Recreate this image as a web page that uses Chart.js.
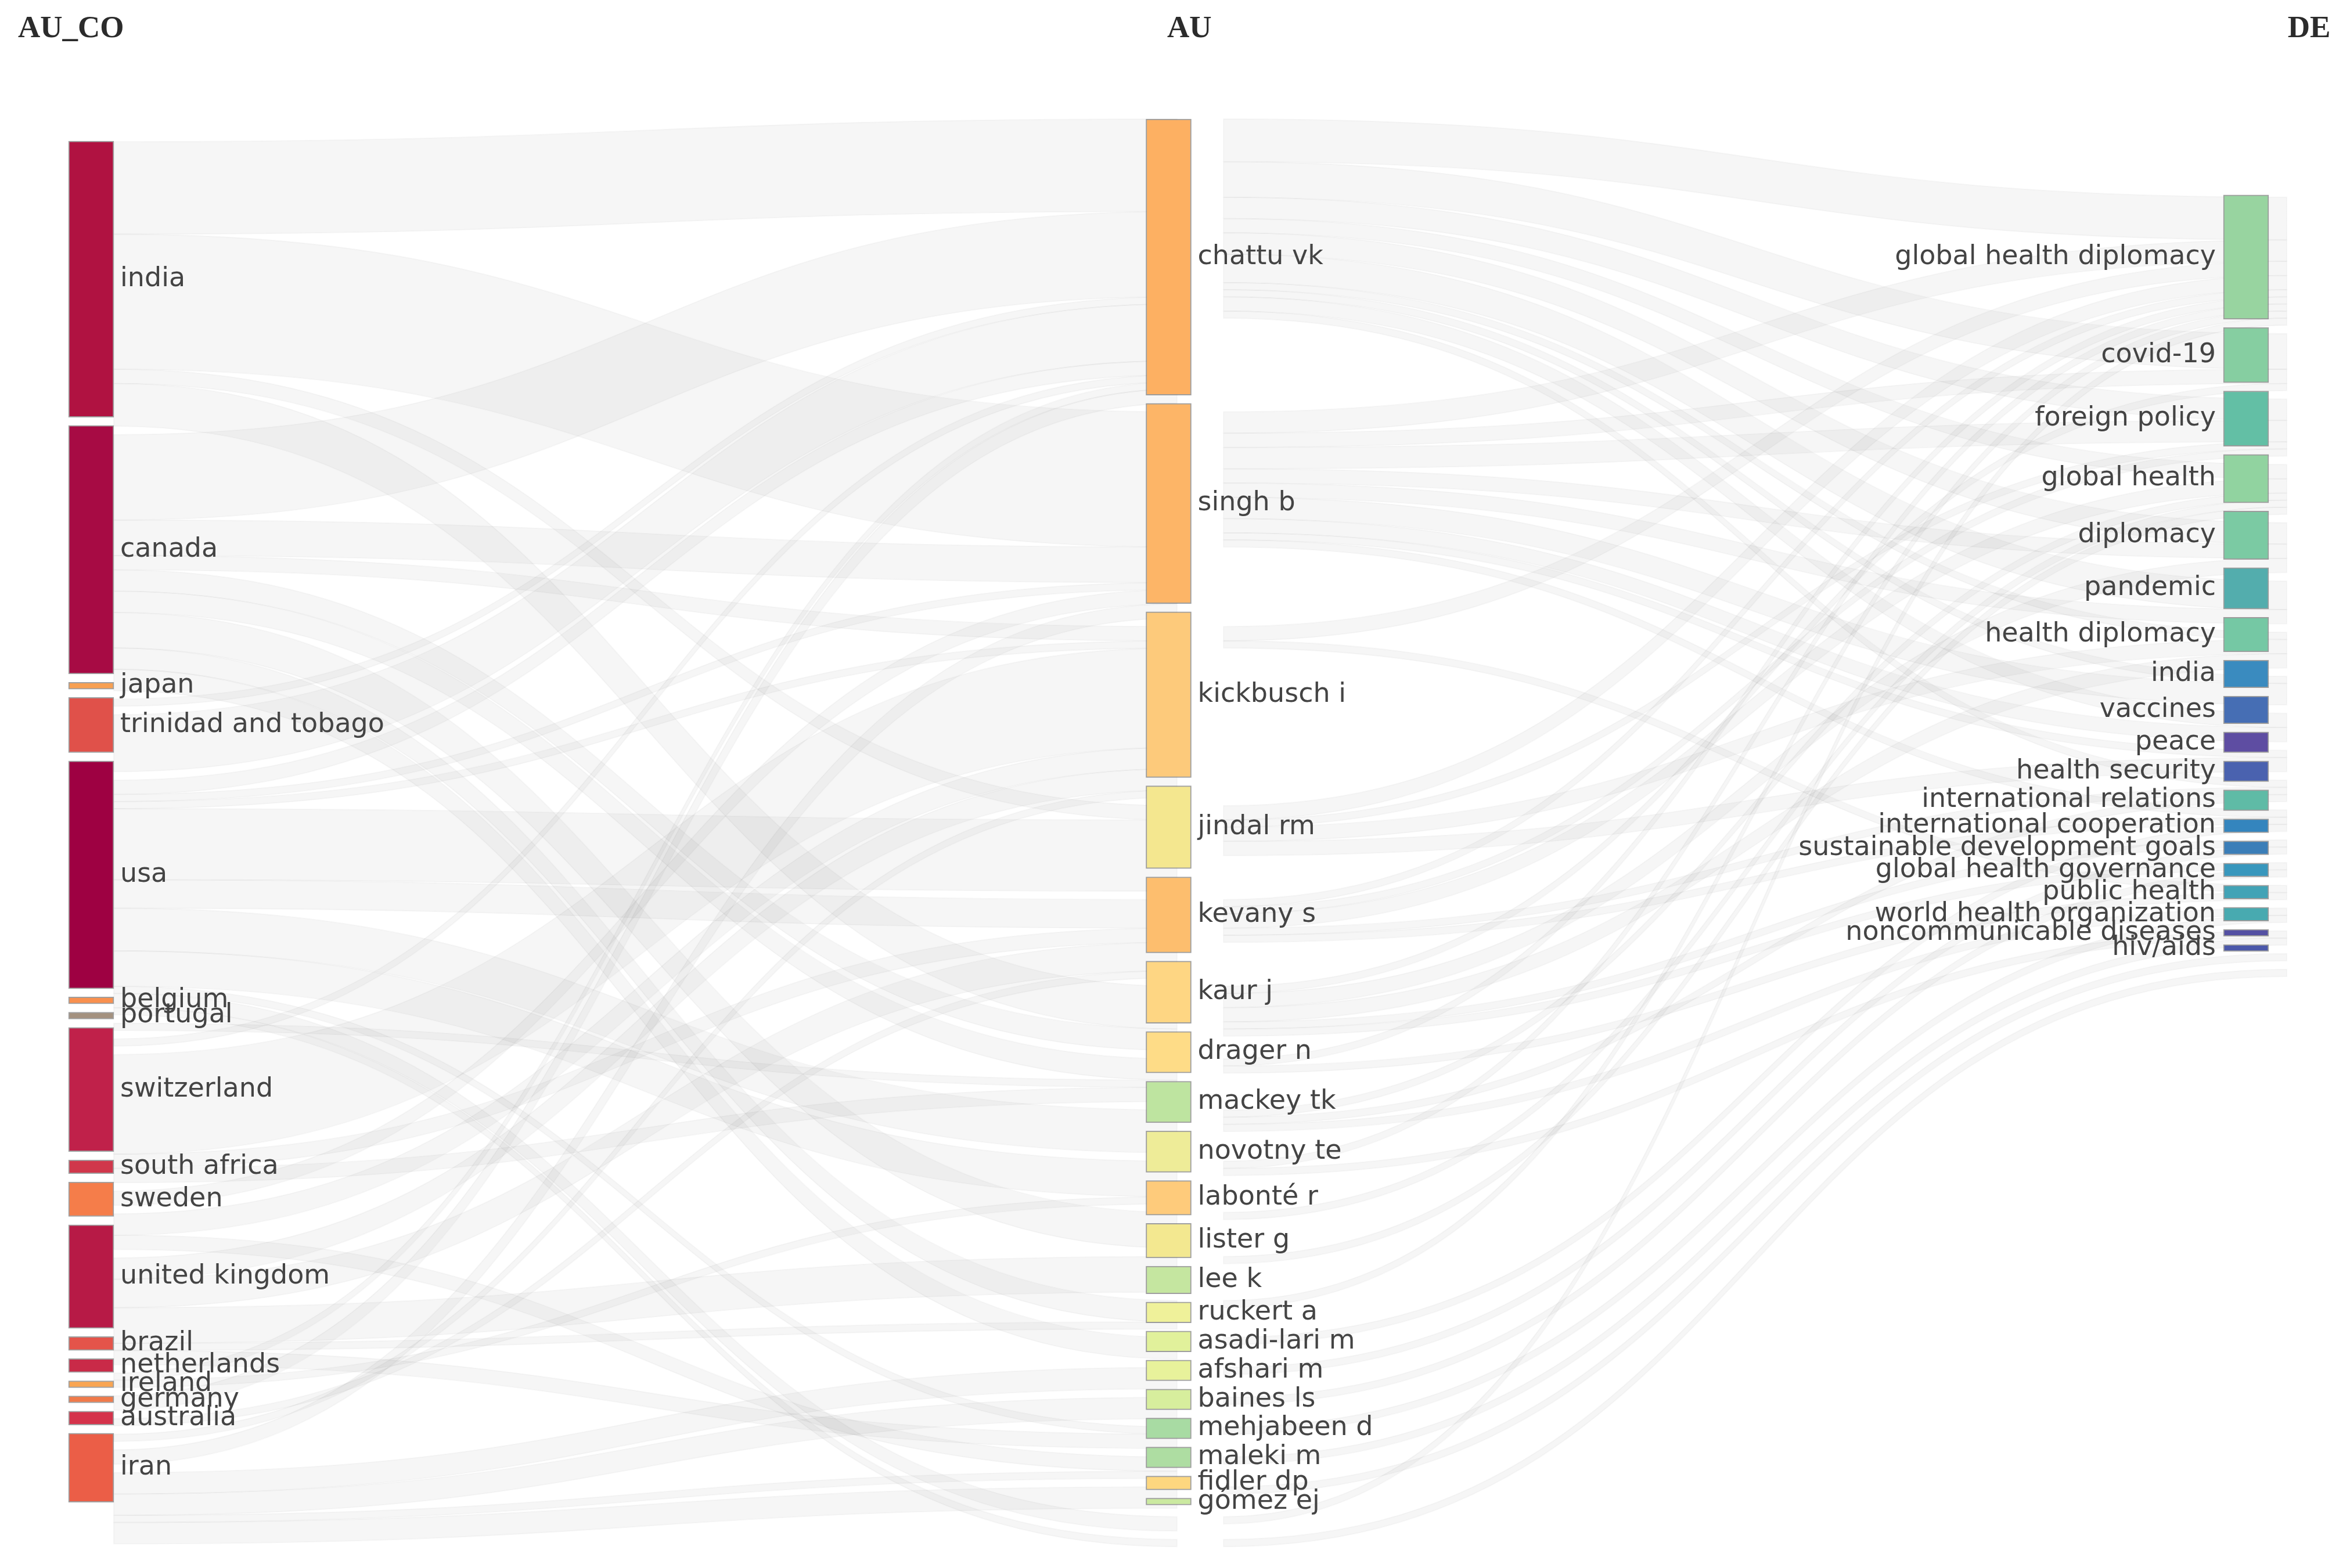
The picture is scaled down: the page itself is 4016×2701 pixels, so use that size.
<!DOCTYPE html>
<html>
<head>
<meta charset="utf-8">
<script src="https://cdn.jsdelivr.net/npm/chart.js@4.4.1/dist/chart.umd.min.js"></script>
<style>
  html, body { margin: 0; padding: 0; background: #fff; }
</style>
</head>
<body>
<canvas id="myChart" width="4016" height="2701"></canvas>
<script>
// three-field plot: countries -> authors -> keywords
const columns = ['AU_CO', 'AU', 'DE'];

const countries = ['india', 'canada', 'japan', 'trinidad and tobago', 'usa', 'belgium', 'portugal',
  'switzerland', 'south africa', 'sweden', 'united kingdom', 'brazil', 'netherlands', 'ireland',
  'germany', 'australia', 'iran'];
const countryColors = ['#b01241', '#a70b44', '#f8a052', '#e0514a', '#9e0142', '#f9904f', '#a4917f',
  '#c0214a', '#d0374b', '#f57d4a', '#b71a46', '#e4544a', '#c92a48', '#f9a552',
  '#f07a4a', '#d5334b', '#eb5e47'];

const authors = ['chattu vk', 'singh b', 'kickbusch i', 'jindal rm', 'kevany s', 'kaur j', 'drager n',
  'mackey tk', 'novotny te', 'labonté r', 'lister g', 'lee k', 'ruckert a', 'asadi-lari m',
  'afshari m', 'baines ls', 'mehjabeen d', 'maleki m', 'fidler dp', 'gómez ej'];
const authorColors = ['#fdb062', '#fdb567', '#fdca7b', '#f4e78f', '#fdbe6e', '#fed683', '#fedc87',
  '#bee4a0', '#eeec98', '#fecb7b', '#f3e890', '#c5e6a0', '#eff19a', '#e1f19b',
  '#e8f29b', '#d7ee9d', '#a8dba3', '#aedda2', '#fdd77f', '#cbe9a0'];

const keywords = ['global health diplomacy', 'covid-19', 'foreign policy', 'global health', 'diplomacy',
  'pandemic', 'health diplomacy', 'india', 'vaccines', 'peace', 'health security',
  'international relations', 'international cooperation', 'sustainable development goals',
  'global health governance', 'public health', 'world health organization',
  'noncommunicable diseases', 'hiv/aids'];
const keywordColors = ['#98d4a0', '#86cea1', '#63bfa5', '#91d3a0', '#7bcaa3', '#53adad', '#75c8a4',
  '#3a8bbf', '#466eb4', '#5e4da2', '#4a62af', '#5fbba6', '#3485be', '#3b7eb8',
  '#3897bd', '#42a3b6', '#48aab0', '#5450a3', '#4b58aa'];

// country -> author flows
const linksCoAu = [
  ['india', 'chattu vk', 13], ['canada', 'chattu vk', 12], ['trinidad and tobago', 'chattu vk', 8],
  ['usa', 'chattu vk', 2], ['japan', 'chattu vk', 1], ['brazil', 'chattu vk', 1],
  ['portugal', 'chattu vk', 1], ['netherlands', 'chattu vk', 2],
  ['india', 'singh b', 19], ['canada', 'singh b', 5], ['usa', 'singh b', 1],
  ['south africa', 'singh b', 2], ['australia', 'singh b', 2],
  ['switzerland', 'kickbusch i', 14], ['germany', 'kickbusch i', 1], ['united kingdom', 'kickbusch i', 3],
  ['usa', 'kickbusch i', 1], ['canada', 'kickbusch i', 2], ['sweden', 'kickbusch i', 3],
  ['usa', 'jindal rm', 10], ['india', 'jindal rm', 2],
  ['usa', 'kevany s', 4], ['ireland', 'kevany s', 1], ['united kingdom', 'kevany s', 4], ['switzerland', 'kevany s', 2],
  ['india', 'kaur j', 6], ['canada', 'kaur j', 3],
  ['canada', 'drager n', 3], ['switzerland', 'drager n', 2], ['belgium', 'drager n', 1],
  ['usa', 'mackey tk', 6],
  ['usa', 'novotny te', 5], ['brazil', 'novotny te', 1],
  ['canada', 'labonté r', 5],
  ['united kingdom', 'lister g', 5],
  ['canada', 'lee k', 3], ['united kingdom', 'lee k', 1],
  ['canada', 'ruckert a', 3],
  ['iran', 'asadi-lari m', 3],
  ['iran', 'afshari m', 3],
  ['united kingdom', 'baines ls', 2], ['usa', 'baines ls', 1],
  ['sweden', 'mehjabeen d', 2], ['iran', 'mehjabeen d', 1],
  ['iran', 'maleki m', 3],
  ['usa', 'fidler dp', 2],
  ['usa', 'gómez ej', 1]
];

// author -> keyword flows
const linksAuDe = [
  ['chattu vk', 'global health diplomacy', 6], ['chattu vk', 'covid-19', 5], ['chattu vk', 'foreign policy', 3],
  ['chattu vk', 'global health', 2], ['chattu vk', 'diplomacy', 3], ['chattu vk', 'pandemic', 4],
  ['chattu vk', 'health diplomacy', 1], ['chattu vk', 'india', 1], ['chattu vk', 'vaccines', 2],
  ['chattu vk', 'health security', 1],
  ['singh b', 'global health diplomacy', 3], ['singh b', 'covid-19', 2], ['singh b', 'foreign policy', 3],
  ['singh b', 'diplomacy', 2], ['singh b', 'pandemic', 2], ['singh b', 'india', 3],
  ['singh b', 'vaccines', 2], ['singh b', 'peace', 1], ['singh b', 'international relations', 1],
  ['kickbusch i', 'global health diplomacy', 2], ['kickbusch i', 'global health governance', 1],
  ['jindal rm', 'global health diplomacy', 2], ['jindal rm', 'foreign policy', 1],
  ['jindal rm', 'peace', 2], ['jindal rm', 'health diplomacy', 2],
  ['kevany s', 'global health diplomacy', 1], ['kevany s', 'foreign policy', 1], ['kevany s', 'global health', 2],
  ['kevany s', 'health security', 1], ['kevany s', 'international relations', 1],
  ['kaur j', 'covid-19', 1], ['kaur j', 'health diplomacy', 2], ['kaur j', 'diplomacy', 2],
  ['kaur j', 'international cooperation', 1], ['kaur j', 'sustainable development goals', 1],
  ['drager n', 'global health diplomacy', 1], ['drager n', 'global health governance', 1],
  ['mackey tk', 'global health', 1], ['mackey tk', 'health security', 1], ['mackey tk', 'public health', 1],
  ['novotny te', 'global health diplomacy', 1], ['novotny te', 'world health organization', 1],
  ['labonté r', 'global health', 1],
  ['lister g', 'global health', 1],
  ['lee k', 'global health diplomacy', 1],
  ['ruckert a', 'international relations', 1],
  ['asadi-lari m', 'international cooperation', 1],
  ['afshari m', 'sustainable development goals', 1],
  ['baines ls', 'public health', 1],
  ['mehjabeen d', 'world health organization', 1],
  ['maleki m', 'noncommunicable diseases', 1],
  ['fidler dp', 'global health diplomacy', 1],
  ['gómez ej', 'hiv/aids', 1]
];

// layout settings (flow units / pixels)
const BAR_W = 78;
const NODE_PAD = 1.2;
const COLUMN_TOP = [3.2, 0, 11];
const Y_MAX = 209;
const LINK_STRETCH = 1.03;
const TITLE_X = [0.0077, 0.5005, 0.981];

// build nodes from the lists
let nodes = [];
function addColumn(col, names, colors) {
  names.forEach((n, i) => nodes.push({ col: col, name: n, idx: i, color: colors[i], inV: 0, outV: 0 }));
}
addColumn(0, countries, countryColors);
addColumn(1, authors, authorColors);
addColumn(2, keywords, keywordColors);

function findNode(col, name) {
  return nodes.find(n => n.col == col && n.name == name);
}

let links = [];
linksCoAu.forEach(l => links.push({ s: findNode(0, l[0]), t: findNode(1, l[1]), v: l[2] }));
linksAuDe.forEach(l => links.push({ s: findNode(1, l[0]), t: findNode(2, l[1]), v: l[2] }));
links.forEach(l => { l.s.outV += l.v; l.t.inV += l.v; });

// stack nodes in each column
for (let col = 0; col < 3; col++) {
  let y = COLUMN_TOP[col];
  nodes.filter(n => n.col == col).forEach(n => {
    n.value = Math.max(n.inV, n.outV);
    n.y0 = y;
    n.y1 = y + n.value;
    y = n.y1 + NODE_PAD;
  });
}

// where each link sits inside its source / target node
nodes.forEach(n => {
  let o = n.y0;
  links.filter(l => l.s == n).sort((a, b) => a.t.idx - b.t.idx).forEach(l => { l.sy = o; o += l.v; });
  o = n.y0;
  links.filter(l => l.t == n).sort((a, b) => a.s.idx - b.s.idx).forEach(l => { l.ty = o; o += l.v; });
});

const datasets = nodes.map(n => {
  let d = [null, null, null];
  d[n.col] = [n.y0, n.y1];
  return {
    label: n.name,
    data: d,
    backgroundColor: n.color,
    borderColor: 'rgba(95,95,95,0.6)',
    borderWidth: 2,
    borderSkipped: false,
    barThickness: BAR_W,
    grouped: false,
    clip: false
  };
});

const linkPlugin = {
  id: 'links',
  beforeDatasetsDraw(chart) {
    const ctx = chart.ctx;
    const xs = chart.scales.x, ys = chart.scales.y;
    const half = BAR_W / 2;
    const ox = xs.getPixelForValue(0) + half, oy = chart.chartArea.top;
    ctx.save();
    ctx.translate(ox, oy);
    ctx.scale(LINK_STRETCH, LINK_STRETCH);
    ctx.translate(-ox, -oy);
    ctx.fillStyle = 'rgba(0,0,0,0.035)';
    ctx.strokeStyle = 'rgba(0,0,0,0.03)';
    ctx.lineWidth = 2;
    links.forEach(l => {
      const x0 = xs.getPixelForValue(l.s.col) + half;
      const x1 = xs.getPixelForValue(l.t.col) - half;
      const a = ys.getPixelForValue(l.sy), b = ys.getPixelForValue(l.ty);
      const h = ys.getPixelForValue(l.sy + l.v) - a;
      const xm = (x0 + x1) / 2;
      ctx.beginPath();
      ctx.moveTo(x0, a);
      ctx.bezierCurveTo(xm, a, xm, b, x1, b);
      ctx.lineTo(x1, b + h);
      ctx.bezierCurveTo(xm, b + h, xm, a + h, x0, a + h);
      ctx.closePath();
      ctx.fill();
      ctx.stroke();
    });
    ctx.restore();
  },
  afterDatasetsDraw(chart) {
    const ctx = chart.ctx;
    const xs = chart.scales.x, ys = chart.scales.y;
    const half = BAR_W / 2;
    ctx.save();
    ctx.font = '46px "DejaVu Sans"';
    ctx.fillStyle = '#444';
    ctx.textBaseline = 'middle';
    nodes.forEach(n => {
      const yc = ys.getPixelForValue((n.y0 + n.y1) / 2);
      const x = xs.getPixelForValue(n.col);
      if (n.col == 2) {
        ctx.textAlign = 'right';
        ctx.fillText(n.name, x - half - 13, yc);
      } else {
        ctx.textAlign = 'left';
        ctx.fillText(n.name, x + half + 11, yc);
      }
    });
    // column titles
    ctx.font = 'bold 53px "Liberation Serif"';
    ctx.fillStyle = '#2b2b2b';
    ctx.textAlign = 'left';
    ctx.textBaseline = 'alphabetic';
    columns.forEach((c, i) => ctx.fillText(c, chart.width * TITLE_X[i], 64));
    ctx.restore();
  }
};

const ctx = document.getElementById('myChart');

const myChart = new Chart(ctx, {
  type: 'bar',
  data: {
    labels: columns,
    datasets: datasets
  },
  options: {
    responsive: false,
    animation: false,
    layout: { padding: { left: 157, right: 4016 - 3868, top: 205, bottom: 11 } },
    plugins: {
      legend: { display: false },
      tooltip: { enabled: false }
    },
    scales: {
      x: { display: false, offset: false, grid: { display: false } },
      y: { display: false, reverse: true, min: 0, max: Y_MAX, grid: { display: false } }
    }
  },
  plugins: [linkPlugin]
});
</script>
</body>
</html>
